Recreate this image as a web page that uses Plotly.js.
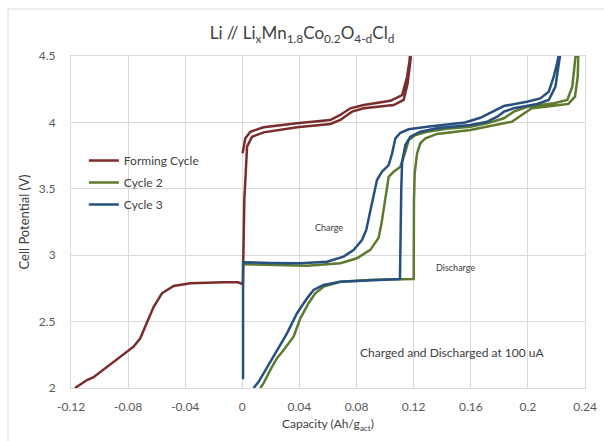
<!DOCTYPE html>
<html><head><meta charset="utf-8">
<script src="https://cdn.plot.ly/plotly-3.0.1.min.js"></script>
<style>html,body{margin:0;padding:0;background:#fff}#chart{width:604px;height:441px}</style>
</head><body><div id="chart"></div>
<script>
// ---- Data ----
const seriesNames = ["Forming Cycle", "Cycle 2", "Cycle 3"];

const formX = [0.0002,0.0021,0.0056,0.0149,0.0383,0.0616,0.0686,0.0756,0.0850,0.1037,0.1119,0.1154,0.1170,0.1174,
  0.1180,0.1177,0.1158,0.1130,0.1060,0.0850,0.0768,0.0686,0.0616,0.0383,0.0149,0.0068,0.0033,0.0014,0.0007,0.0004,
  -0.0005,-0.0030,-0.0131,-0.0364,-0.0481,-0.0563,-0.0621,-0.0668,-0.0715,-0.0762,-0.0855,-0.0948,-0.1042,-0.1088,-0.1172];
const formY = [3.767,3.880,3.930,3.963,3.993,4.018,4.056,4.106,4.131,4.163,4.206,4.344,4.457,4.500,
  4.490,4.457,4.294,4.169,4.131,4.106,4.081,4.018,3.988,3.963,3.925,3.892,3.817,3.416,2.960,2.785,
  2.785,2.796,2.796,2.788,2.768,2.713,2.612,2.487,2.374,2.311,2.233,2.160,2.081,2.060,2.000];

const c2X = [0.0008,0.0200,0.0453,0.0686,0.0803,0.0896,0.0954,0.0975,0.1001,0.1025,0.1060,0.1107,0.1142,0.1165,0.1212,0.1294,0.1457,0.1597,0.1716,0.1832,0.1902,0.1996,0.2182,0.2276,0.2311,0.2327,0.2334,
  0.2353,0.2349,0.2330,0.2284,0.2167,0.2027,0.1957,0.1887,0.1771,0.1597,0.1364,0.1282,0.1247,0.1224,0.1207,0.1202,0.1200,0.1104,0.0917,0.0686,0.0569,0.0511,0.0464,0.0406,0.0359,0.0289,0.0243,0.0196,0.0149,0.0126];
const c2Y = [2.932,2.925,2.921,2.939,2.977,3.040,3.130,3.240,3.440,3.590,3.629,3.666,3.779,3.867,3.905,3.930,3.955,3.967,3.993,4.031,4.081,4.118,4.144,4.169,4.269,4.420,4.500,
  4.495,4.344,4.194,4.139,4.123,4.106,4.056,4.005,3.980,3.943,3.913,3.880,3.843,3.767,3.617,3.400,2.821,2.820,2.815,2.800,2.763,2.713,2.638,2.525,2.386,2.286,2.224,2.136,2.036,2.000];

const c3X = [0.0005,0.0005,0.0009,0.0200,0.0406,0.0593,0.0709,0.0779,0.0838,0.0868,0.0908,0.0943,0.0978,0.1025,0.1049,0.1072,0.1107,0.1165,0.1294,0.1457,0.1560,0.1667,0.1761,0.1831,0.1994,0.2087,0.2146,0.2181,0.2204,0.2215,
  0.2225,0.2222,0.2210,0.2193,0.2146,0.2066,0.1902,0.1832,0.1786,0.1716,0.1597,0.1364,0.1247,0.1177,0.1142,0.1119,0.1113,0.1104,0.0917,0.0686,0.0569,0.0499,0.0453,0.0383,0.0313,0.0243,0.0173,0.0114,0.0079];
const c3Y = [2.065,2.947,2.947,2.942,2.939,2.951,2.989,3.039,3.114,3.190,3.391,3.566,3.629,3.679,3.767,3.880,3.922,3.948,3.968,3.986,4.000,4.035,4.088,4.123,4.156,4.181,4.231,4.344,4.445,4.500,
  4.500,4.470,4.395,4.269,4.169,4.139,4.106,4.081,4.043,4.005,3.980,3.956,3.930,3.892,3.830,3.700,3.490,2.821,2.813,2.800,2.776,2.738,2.675,2.563,2.412,2.286,2.160,2.047,2.000];

const xTickVals = [-0.12,-0.08,-0.04,0,0.04,0.08,0.12,0.16,0.2,0.24];
const xTickText = ["-0.12","-0.08","-0.04","0","0.04","0.08","0.12","0.16","0.2","0.24"];
const yTickVals = [2,2.5,3,3.5,4,4.5];
const yTickText = ["2","2.5","3","3.5","4","4.5"];

const titleText = "Li // Li<sub>x</sub>Mn<sub>1.8</sub>Co<sub>0.2</sub>O<sub>4-d</sub>Cl<sub>d</sub>";
const xTitle = "Capacity (Ah/g<sub>act</sub>)";
const yTitle = "Cell Potential (V)";
const noteCharge = "Charge";
const noteDischarge = "Discharge";
const noteRate = "Charged and Discharged at 100 uA";

// ---- Styling ----
const colors = ["#7A2B2B", "#5E7A2E", "#26507F"];
const FONT = "Lato, 'Open Sans', sans-serif";
const TXT = "#404040";
const GRID = "#D9D9D9";

const xs = [formX, c2X, c3X], ys = [formY, c2Y, c3Y];
const traces = seriesNames.map((n, i) => ({
  type: "scatter", mode: "lines", name: n, x: xs[i], y: ys[i],
  legendgroup: "g" + i,
  line: {color: colors[i], width: 2.5},
  hoverinfo: "skip"
}));

const layout = {
  width: 604, height: 441,
  margin: {l: 71, r: 19, t: 56, b: 53},
  paper_bgcolor: "#fff", plot_bgcolor: "#fff",
  font: {family: FONT, color: TXT, size: 12},
  title: {text: titleText, x: 0.5, xref: "container", y: 1 - 33/441, yanchor: "middle",
          font: {family: FONT, size: 17, color: TXT}},
  xaxis: {range: [-0.12, 0.24], tickvals: xTickVals, ticktext: xTickText,
          showgrid: true, gridcolor: GRID, gridwidth: 1, zeroline: false,
          showline: true, linecolor: GRID, mirror: true, ticks: "",
          tickfont: {size: 12, color: "#595959"}, ticklabelstandoff: 8,
          title: {text: xTitle, font: {size: 12, color: TXT}, standoff: 6}},
  yaxis: {range: [2, 4.5], tickvals: yTickVals, ticktext: yTickText,
          showgrid: true, gridcolor: GRID, gridwidth: 1, zeroline: false,
          showline: true, linecolor: GRID, mirror: true, ticks: "",
          tickfont: {size: 12, color: "#595959"}, ticklabelstandoff: 12,
          title: {text: yTitle, font: {size: 13, color: TXT}, standoff: 6}},
  showlegend: true,
  legend: {x: 0.025, y: 0.729, xanchor: "left", yanchor: "top", bgcolor: "rgba(0,0,0,0)",
           tracegroupgap: 3, font: {size: 12, color: TXT}},
  annotations: [
    {text: noteCharge, x: 0.061, y: 3.205, xref: "x", yref: "y", showarrow: false, font: {size: 9, color: TXT}},
    {text: noteDischarge, x: 0.149, y: 2.904, xref: "x", yref: "y", showarrow: false, font: {size: 9, color: TXT}},
    {text: noteRate, x: 0.147, y: 2.271, xref: "x", yref: "y", showarrow: false, font: {size: 12, color: TXT}}
  ],
  shapes: [
    {type: "line", xref: "paper", yref: "paper", x0: (8-71)/514, x1: (604-71)/514, y0: (388-9)/332, y1: (388-9)/332, line: {color: GRID, width: 1}},
    {type: "line", xref: "paper", yref: "paper", x0: (8-71)/514, x1: (8-71)/514, y0: (388-9)/332, y1: (388-441)/332, line: {color: GRID, width: 1}}
  ]
};

Plotly.newPlot("chart", traces, layout, {staticPlot: true, displayModeBar: false});
</script></body></html>
